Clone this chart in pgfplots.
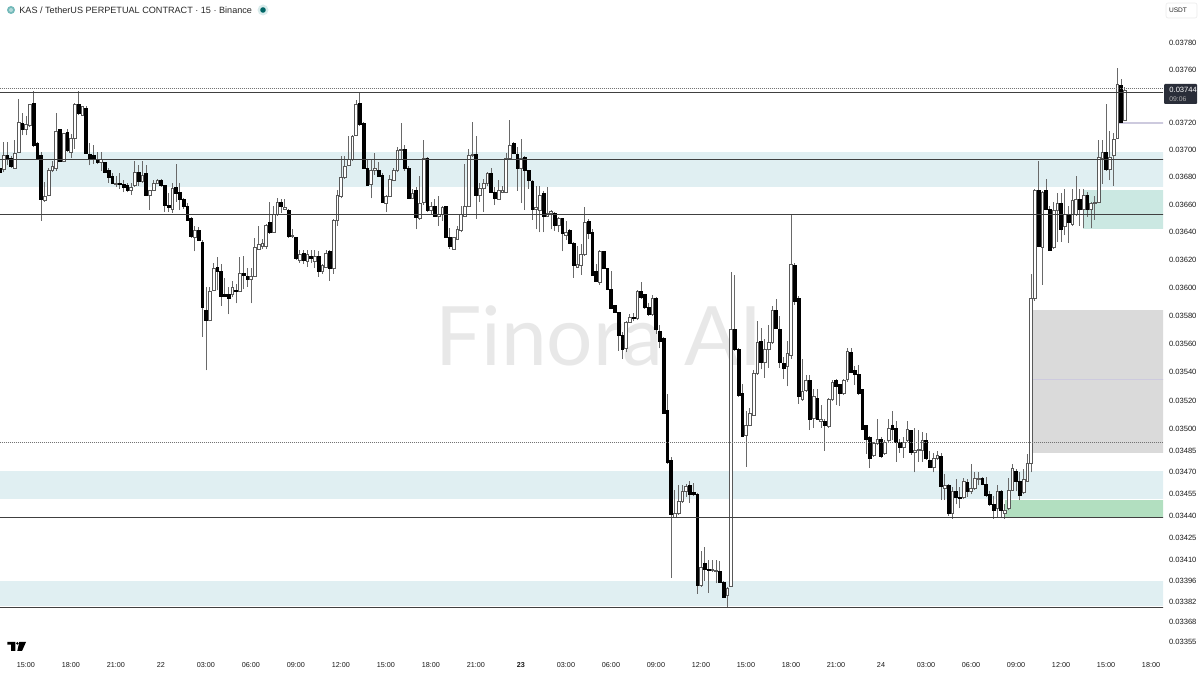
\documentclass[border=0pt]{standalone}
\usepackage{fontspec}
\setmainfont{Liberation Sans}
\newfontfamily\wmfont{Lato}
\usepackage{pgfplots}
\usepackage{pgfplotstable}
\pgfplotsset{compat=1.18}
\definecolor{zona}{RGB}{224,239,242}
\definecolor{zonaverde}{RGB}{203,232,226}
\definecolor{verde}{RGB}{178,223,192}
\definecolor{gris}{RGB}{218,218,218}
\definecolor{lav}{RGB}{205,202,222}
\definecolor{etiq}{RGB}{42,46,57}
\definecolor{mecha}{RGB}{105,105,105}
% KAS/USDT 15m: x is the candle number, 0 is the first 15:00
\pgfplotstableread{
x o h l c
-7 0.03687 0.03688 0.03683 0.03684
-6 0.03686 0.03706 0.03684 0.03696
-5 0.03696 0.03706 0.03689 0.03694
-4 0.03694 0.03696 0.03687 0.03688
-3 0.03687 0.03707 0.03687 0.03698
-2 0.03699 0.03738 0.03698 0.03721
-1 0.03720 0.03727 0.03711 0.03715
0 0.03715 0.03725 0.03711 0.03719
1 0.03718 0.03734 0.03717 0.03734
2 0.03735 0.03744 0.03702 0.03704
3 0.03705 0.03706 0.03693 0.03694
4 0.03696 0.03699 0.03648 0.03664
5 0.03663 0.03677 0.03662 0.03666
6 0.03667 0.03687 0.03666 0.03685
7 0.03685 0.03692 0.03684 0.03688
8 0.03687 0.03727 0.03685 0.03714
9 0.03715 0.03716 0.03691 0.03692
10 0.03692 0.03713 0.03691 0.03712
11 0.03713 0.03716 0.03699 0.03700
12 0.03699 0.03712 0.03694 0.03709
13 0.03709 0.03735 0.03701 0.03734
14 0.03734 0.03744 0.03726 0.03727
15 0.03726 0.03732 0.03726 0.03732
16 0.03731 0.03733 0.03697 0.03698
17 0.03697 0.03705 0.03689 0.03694
18 0.03696 0.03704 0.03690 0.03693
19 0.03693 0.03699 0.03690 0.03691
20 0.03691 0.03699 0.03685 0.03693
21 0.03691 0.03691 0.03683 0.03684
22 0.03685 0.03687 0.03676 0.03680
23 0.03681 0.03683 0.03675 0.03676
24 0.03675 0.03681 0.03673 0.03676
25 0.03676 0.03683 0.03672 0.03675
26 0.03675 0.03678 0.03669 0.03673
27 0.03674 0.03676 0.03669 0.03670
28 0.03670 0.03676 0.03667 0.03673
29 0.03674 0.03692 0.03673 0.03684
30 0.03684 0.03689 0.03674 0.03677
31 0.03677 0.03692 0.03676 0.03682
32 0.03683 0.03689 0.03666 0.03667
33 0.03667 0.03670 0.03656 0.03670
34 0.03670 0.03678 0.03670 0.03676
35 0.03676 0.03679 0.03675 0.03678
36 0.03678 0.03679 0.03673 0.03674
37 0.03674 0.03674 0.03655 0.03660
38 0.03660 0.03668 0.03655 0.03658
39 0.03657 0.03676 0.03654 0.03672
40 0.03673 0.03690 0.03662 0.03668
41 0.03669 0.03676 0.03656 0.03664
42 0.03664 0.03665 0.03657 0.03659
43 0.03659 0.03661 0.03649 0.03649
44 0.03650 0.03651 0.03636 0.03637
45 0.03636 0.03645 0.03626 0.03641
46 0.03641 0.03644 0.03634 0.03634
47 0.03633 0.03634 0.03565 0.03586
48 0.03584 0.03600 0.03541 0.03577
49 0.03577 0.03601 0.03576 0.03597
50 0.03598 0.03618 0.03598 0.03614
51 0.03615 0.03622 0.03598 0.03612
52 0.03612 0.03617 0.03587 0.03594
53 0.03595 0.03607 0.03594 0.03594
54 0.03595 0.03600 0.03581 0.03592
55 0.03595 0.03605 0.03593 0.03600
56 0.03598 0.03603 0.03589 0.03597
57 0.03597 0.03622 0.03597 0.03610
58 0.03610 0.03623 0.03599 0.03609
59 0.03608 0.03614 0.03601 0.03606
60 0.03606 0.03614 0.03589 0.03608
61 0.03608 0.03636 0.03608 0.03629
62 0.03628 0.03645 0.03627 0.03631
63 0.03630 0.03635 0.03628 0.03632
64 0.03630 0.03646 0.03628 0.03645
65 0.03647 0.03662 0.03639 0.03640
66 0.03640 0.03659 0.03640 0.03653
67 0.03653 0.03665 0.03652 0.03662
68 0.03662 0.03664 0.03654 0.03659
69 0.03658 0.03664 0.03656 0.03657
70 0.03656 0.03657 0.03636 0.03637
71 0.03638 0.03642 0.03636 0.03637
72 0.03636 0.03637 0.03620 0.03621
73 0.03620 0.03627 0.03618 0.03624
74 0.03625 0.03627 0.03617 0.03620
75 0.03619 0.03627 0.03615 0.03624
76 0.03623 0.03627 0.03618 0.03621
77 0.03619 0.03627 0.03614 0.03623
78 0.03623 0.03626 0.03608 0.03612
79 0.03612 0.03617 0.03610 0.03616
80 0.03615 0.03627 0.03614 0.03625
81 0.03626 0.03627 0.03605 0.03614
82 0.03614 0.03650 0.03610 0.03649
83 0.03649 0.03671 0.03645 0.03667
84 0.03666 0.03696 0.03665 0.03680
85 0.03680 0.03696 0.03679 0.03688
86 0.03689 0.03710 0.03688 0.03693
87 0.03693 0.03711 0.03692 0.03710
88 0.03711 0.03737 0.03710 0.03734
89 0.03735 0.03743 0.03718 0.03719
90 0.03720 0.03721 0.03687 0.03687
91 0.03687 0.03693 0.03674 0.03674
92 0.03675 0.03693 0.03665 0.03685
93 0.03685 0.03698 0.03682 0.03687
94 0.03685 0.03691 0.03681 0.03681
95 0.03682 0.03683 0.03661 0.03662
96 0.03661 0.03667 0.03655 0.03666
97 0.03666 0.03682 0.03666 0.03679
98 0.03678 0.03687 0.03678 0.03685
99 0.03685 0.03702 0.03684 0.03700
100 0.03700 0.03720 0.03693 0.03701
101 0.03701 0.03704 0.03685 0.03687
102 0.03687 0.03688 0.03665 0.03665
103 0.03665 0.03672 0.03665 0.03668
104 0.03670 0.03673 0.03642 0.03651
105 0.03650 0.03681 0.03649 0.03661
106 0.03662 0.03707 0.03660 0.03694
107 0.03694 0.03695 0.03655 0.03656
108 0.03656 0.03662 0.03653 0.03659
109 0.03659 0.03664 0.03651 0.03652
110 0.03652 0.03666 0.03645 0.03653
111 0.03653 0.03659 0.03648 0.03658
112 0.03659 0.03659 0.03636 0.03636
113 0.03636 0.03643 0.03628 0.03630
114 0.03628 0.03637 0.03628 0.03636
115 0.03635 0.03645 0.03634 0.03642
116 0.03641 0.03659 0.03640 0.03653
117 0.03652 0.03690 0.03651 0.03659
118 0.03659 0.03701 0.03658 0.03696
119 0.03696 0.03721 0.03695 0.03697
120 0.03697 0.03710 0.03650 0.03667
121 0.03667 0.03676 0.03662 0.03672
122 0.03672 0.03679 0.03655 0.03676
123 0.03676 0.03684 0.03674 0.03683
124 0.03683 0.03687 0.03668 0.03669
125 0.03669 0.03673 0.03660 0.03665
126 0.03664 0.03678 0.03664 0.03670
127 0.03669 0.03674 0.03668 0.03670
128 0.03669 0.03698 0.03668 0.03694
129 0.03694 0.03722 0.03693 0.03704
130 0.03705 0.03706 0.03697 0.03698
131 0.03697 0.03702 0.03670 0.03687
132 0.03687 0.03708 0.03661 0.03694
133 0.03695 0.03696 0.03656 0.03685
134 0.03685 0.03685 0.03672 0.03678
135 0.03677 0.03678 0.03649 0.03657
136 0.03657 0.03674 0.03642 0.03658
137 0.03656 0.03674 0.03640 0.03667
138 0.03668 0.03670 0.03640 0.03652
139 0.03652 0.03673 0.03651 0.03654
140 0.03655 0.03656 0.03642 0.03654
141 0.03654 0.03655 0.03641 0.03645
142 0.03645 0.03651 0.03640 0.03650
143 0.03650 0.03650 0.03626 0.03639
144 0.03638 0.03648 0.03634 0.03640
145 0.03641 0.03642 0.03631 0.03632
146 0.03632 0.03633 0.03607 0.03616
147 0.03615 0.03630 0.03615 0.03617
148 0.03616 0.03631 0.03609 0.03624
149 0.03624 0.03658 0.03623 0.03647
150 0.03648 0.03650 0.03635 0.03639
151 0.03640 0.03642 0.03609 0.03609
152 0.03612 0.03617 0.03604 0.03605
153 0.03604 0.03627 0.03602 0.03626
154 0.03626 0.03626 0.03614 0.03614
155 0.03614 0.03614 0.03598 0.03599
156 0.03599 0.03612 0.03585 0.03585
157 0.03587 0.03588 0.03582 0.03582
158 0.03582 0.03583 0.03555 0.03566
159 0.03566 0.03568 0.03549 0.03556
160 0.03557 0.03576 0.03554 0.03575
161 0.03575 0.03581 0.03575 0.03579
162 0.03579 0.03582 0.03576 0.03578
163 0.03578 0.03598 0.03577 0.03597
164 0.03597 0.03604 0.03592 0.03593
165 0.03595 0.03595 0.03585 0.03586
166 0.03586 0.03589 0.03580 0.03581
167 0.03581 0.03595 0.03580 0.03592
168 0.03592 0.03593 0.03567 0.03570
169 0.03569 0.03573 0.03557 0.03562
170 0.03564 0.03565 0.03511 0.03511
171 0.03513 0.03525 0.03476 0.03477
172 0.03478 0.03481 0.03398 0.03441
173 0.03439 0.03458 0.03439 0.03442
174 0.03442 0.03461 0.03441 0.03450
175 0.03450 0.03461 0.03449 0.03457
176 0.03457 0.03462 0.03453 0.03460
177 0.03461 0.03464 0.03449 0.03455
178 0.03456 0.03463 0.03454 0.03455
179 0.03455 0.03456 0.03387 0.03393
180 0.03393 0.03416 0.03392 0.03405
181 0.03408 0.03419 0.03396 0.03404
182 0.03404 0.03410 0.03388 0.03403
183 0.03403 0.03410 0.03402 0.03404
184 0.03403 0.03410 0.03394 0.03402
185 0.03402 0.03409 0.03395 0.03395
186 0.03395 0.03396 0.03384 0.03385
187 0.03386 0.03392 0.03378 0.03391
188 0.03392 0.03611 0.03392 0.03570
189 0.03570 0.03609 0.03555 0.03556
190 0.03556 0.03557 0.03523 0.03524
191 0.03525 0.03532 0.03494 0.03495
192 0.03496 0.03513 0.03474 0.03503
193 0.03503 0.03515 0.03502 0.03511
194 0.03510 0.03541 0.03509 0.03539
195 0.03539 0.03576 0.03538 0.03561
196 0.03562 0.03571 0.03542 0.03547
197 0.03547 0.03563 0.03536 0.03556
198 0.03556 0.03573 0.03543 0.03561
199 0.03561 0.03587 0.03560 0.03584
200 0.03584 0.03592 0.03571 0.03571
201 0.03570 0.03580 0.03543 0.03547
202 0.03546 0.03551 0.03535 0.03543
203 0.03544 0.03562 0.03530 0.03553
204 0.03552 0.03653 0.03549 0.03617
205 0.03616 0.03618 0.03588 0.03590
206 0.03592 0.03594 0.03518 0.03523
207 0.03521 0.03549 0.03520 0.03526
208 0.03527 0.03538 0.03526 0.03534
209 0.03534 0.03538 0.03499 0.03507
210 0.03508 0.03528 0.03501 0.03523
211 0.03522 0.03528 0.03507 0.03507
212 0.03507 0.03517 0.03501 0.03506
213 0.03506 0.03507 0.03485 0.03503
214 0.03502 0.03522 0.03501 0.03521
215 0.03521 0.03534 0.03520 0.03533
216 0.03534 0.03535 0.03517 0.03530
217 0.03531 0.03532 0.03516 0.03525
218 0.03525 0.03535 0.03524 0.03534
219 0.03535 0.03557 0.03533 0.03555
220 0.03554 0.03557 0.03539 0.03540
221 0.03541 0.03544 0.03531 0.03538
222 0.03538 0.03545 0.03524 0.03525
223 0.03528 0.03528 0.03500 0.03500
224 0.03503 0.03503 0.03483 0.03493
225 0.03494 0.03495 0.03473 0.03480
226 0.03482 0.03491 0.03481 0.03490
227 0.03490 0.03507 0.03489 0.03493
228 0.03493 0.03494 0.03480 0.03481
229 0.03483 0.03492 0.03482 0.03491
230 0.03492 0.03507 0.03491 0.03501
231 0.03503 0.03513 0.03492 0.03500
232 0.03501 0.03506 0.03477 0.03491
233 0.03491 0.03493 0.03484 0.03487
234 0.03487 0.03494 0.03480 0.03491
235 0.03492 0.03506 0.03491 0.03500
236 0.03499 0.03499 0.03482 0.03484
237 0.03484 0.03501 0.03470 0.03485
238 0.03485 0.03499 0.03477 0.03486
239 0.03485 0.03498 0.03477 0.03492
240 0.03492 0.03497 0.03479 0.03480
241 0.03479 0.03485 0.03473 0.03474
242 0.03474 0.03484 0.03470 0.03480
243 0.03480 0.03485 0.03479 0.03482
244 0.03481 0.03484 0.03451 0.03460
245 0.03459 0.03469 0.03451 0.03461
246 0.03461 0.03462 0.03440 0.03442
247 0.03442 0.03460 0.03438 0.03457
248 0.03457 0.03465 0.03448 0.03453
249 0.03453 0.03460 0.03445 0.03452
250 0.03453 0.03466 0.03452 0.03464
251 0.03463 0.03465 0.03453 0.03457
252 0.03457 0.03476 0.03455 0.03459
253 0.03459 0.03470 0.03458 0.03466
254 0.03465 0.03470 0.03461 0.03466
255 0.03466 0.03467 0.03461 0.03462
256 0.03462 0.03467 0.03453 0.03454
257 0.03455 0.03457 0.03447 0.03448
258 0.03448 0.03454 0.03438 0.03444
259 0.03445 0.03461 0.03439 0.03457
260 0.03457 0.03458 0.03439 0.03444
261 0.03442 0.03448 0.03438 0.03444
262 0.03445 0.03466 0.03444 0.03458
263 0.03458 0.03476 0.03458 0.03473
264 0.03471 0.03472 0.03457 0.03464
265 0.03464 0.03470 0.03451 0.03454
266 0.03456 0.03472 0.03455 0.03465
267 0.03464 0.03483 0.03464 0.03476
268 0.03476 0.03610 0.03470 0.03592
269 0.03592 0.03672 0.03591 0.03670
270 0.03670 0.03692 0.03629 0.03630
271 0.03629 0.03670 0.03602 0.03669
272 0.03670 0.03679 0.03656 0.03657
273 0.03657 0.03659 0.03627 0.03627
274 0.03629 0.03662 0.03628 0.03656
275 0.03656 0.03668 0.03633 0.03661
276 0.03661 0.03668 0.03633 0.03642
277 0.03644 0.03672 0.03638 0.03653
278 0.03653 0.03659 0.03632 0.03647
279 0.03646 0.03672 0.03645 0.03663
280 0.03653 0.03681 0.03652 0.03664
281 0.03664 0.03672 0.03645 0.03657
282 0.03657 0.03672 0.03643 0.03667
283 0.03667 0.03669 0.03651 0.03657
284 0.03657 0.03662 0.03643 0.03661
285 0.03661 0.03666 0.03649 0.03662
286 0.03662 0.03707 0.03661 0.03695
287 0.03694 0.03707 0.03675 0.03699
288 0.03699 0.03734 0.03685 0.03686
289 0.03686 0.03714 0.03678 0.03695
290 0.03696 0.03713 0.03674 0.03708
291 0.03709 0.03761 0.03708 0.03749
292 0.03748 0.03753 0.03721 0.03721
293 0.03722 0.03747 0.03722 0.03744
}\velas
\pgfplotstablegetrowsof{\velas}
\pgfmathtruncatemacro{\ultima}{\pgfplotsretval-1}
\begin{document}
% everything at half size: at full size the log axis overflows TeX dimensions
\begin{tikzpicture}
\path[use as bounding box] (0,0) rectangle (600pt,337.5pt);
\begin{axis}[
  at={(0,10pt)}, anchor=south west, scale only axis,
  width=581.5pt, height=315pt,
  ymode=log, xmin=-6.93, xmax=303.2, ymin=0.03346, ymax=0.03793,
  axis line style={draw=none}, major tick length=0, minor tick length=0,
  yticklabel pos=right,
  xtick={0,12,...,300},
  xticklabels={15:00,18:00,21:00,22,03:00,06:00,09:00,12:00,15:00,18:00,21:00,\textbf{23},03:00,06:00,09:00,12:00,15:00,18:00,21:00,24,03:00,06:00,09:00,12:00,15:00,18:00},
  ytick={0.03780,0.03760,0.03720,0.03700,0.03680,0.03660,0.03640,0.03620,0.03600,0.03580,0.03560,0.03540,0.03520,0.03500,0.03485,0.03470,0.03455,0.03440,0.03425,0.03410,0.03396,0.03382,0.03368,0.03355},
  yticklabels={0.03780,0.03760,0.03720,0.03700,0.03680,0.03660,0.03640,0.03620,0.03600,0.03580,0.03560,0.03540,0.03520,0.03500,0.03485,0.03470,0.03455,0.03440,0.03425,0.03410,0.03396,0.03382,0.03368,0.03355},
  yticklabel style={font=\fontsize{3.8}{4.5}\selectfont, text=black!90, anchor=west, inner sep=0pt, xshift=2.8pt},
  xticklabel style={font=\fontsize{3.6}{4.5}\selectfont, text=black!90, inner sep=0pt, yshift=-3.5pt},
]
% watermark under everything
\node[text=black!9, font=\wmfont\fontsize{41}{41}\selectfont, anchor=base] at (axis cs:152.8,0.03545) {Finora AI};
% zones
\addplot[fill=zona, draw=none, forget plot] coordinates {(-7,0.03699) (304,0.03699) (304,0.03673) (-7,0.03673)} --cycle;
\addplot[fill=zona, draw=none, forget plot] coordinates {(-7,0.03471) (304,0.03471) (304,0.03452) (-7,0.03452)} --cycle;
\addplot[fill=zona, draw=none, forget plot] coordinates {(-7,0.03396) (304,0.03396) (304,0.03379) (-7,0.03379)} --cycle;
\addplot[fill=gris, draw=none, forget plot] coordinates {(267.7,0.03584) (304,0.03584) (304,0.03484) (267.7,0.03484)} --cycle;
\addplot[fill=zonaverde, draw=none, forget plot] coordinates {(281.9,0.03671) (304,0.03671) (304,0.03642) (281.9,0.03642)} --cycle;
\addplot[fill=verde, draw=none, forget plot] coordinates {(261,0.03451) (304,0.03451) (304,0.03439) (261,0.03439)} --cycle;
\addplot[lav, line width=0.3pt, forget plot] coordinates {(267.7,0.03535) (304,0.03535)};
\addplot[lav, line width=0.8pt, forget plot] coordinates {(291.5,0.03720) (304,0.03720)};
% candles
\pgfplotsforeachungrouped \i in {0,...,\ultima}{
  \pgfplotstablegetelem{\i}{x}\of\velas \let\vx\pgfplotsretval
  \pgfplotstablegetelem{\i}{o}\of\velas \let\vo\pgfplotsretval
  \pgfplotstablegetelem{\i}{h}\of\velas \let\vh\pgfplotsretval
  \pgfplotstablegetelem{\i}{l}\of\velas \let\vl\pgfplotsretval
  \pgfplotstablegetelem{\i}{c}\of\velas \let\vc\pgfplotsretval
  \ifdim\vc pt<\vo pt \def\relleno{black}\def\borde{black}\else\def\relleno{white}\def\borde{black!65}\fi
  \pgfmathsetmacro{\xa}{\vx-0.34}
  \pgfmathsetmacro{\xb}{\vx+0.34}
  \edef\vela{%
    \noexpand\addplot[mecha, line width=0.42pt, forget plot] coordinates {(\vx,\vl) (\vx,\vh)};
    \noexpand\addplot[fill=\relleno, draw=\borde, line width=0.26pt, forget plot] coordinates {(\xa,\vo) (\xb,\vo) (\xb,\vc) (\xa,\vc)} --cycle;
  }\vela
}
% lines on top
\addplot[black!75, line width=0.35pt, forget plot] coordinates {(-7,0.03743) (304,0.03743)};
\addplot[black!75, line width=0.35pt, forget plot] coordinates {(-7,0.03693) (304,0.03693)};
\addplot[black!75, line width=0.35pt, forget plot] coordinates {(-7,0.03653) (304,0.03653)};
\addplot[black!75, line width=0.35pt, forget plot] coordinates {(-7,0.03439) (304,0.03439)};
\addplot[black!75, line width=0.35pt, forget plot] coordinates {(-7,0.03378) (304,0.03378)};
\addplot[black!55, line width=0.25pt, dash pattern=on 0.4pt off 0.6pt, forget plot] coordinates {(-7,0.03746) (304,0.03746)};
\addplot[black!55, line width=0.25pt, dash pattern=on 0.4pt off 0.6pt, forget plot] coordinates {(-7,0.03491) (304,0.03491)};
\end{axis}
% chart furniture, in picture pixels from the top left
\begin{scope}[yshift=337.5pt, x=0.5pt, y=-0.5pt]
\fill[teal!55] (11,10) circle (4);
\fill[white!70!teal] (11,10) circle (2);
\node[anchor=west, inner sep=0pt, font=\fontsize{4.55}{5}\selectfont, text=black!85] at (19,10.5) {KAS / TetherUS PERPETUAL CONTRACT · 15 · Binance};
\fill[teal!15] (263,10) circle (5.5);
\fill[teal!80!black] (263,10) circle (2.8);
\draw[black!8, rounded corners=1pt, fill=white, line width=0.3pt] (1166,3) rectangle (1197,18);
\node[inner sep=0pt, font=\fontsize{3.3}{4}\selectfont, text=black!85] at (1178,10.5) {USDT};
\fill[etiq, rounded corners=0.5pt] (1164,84) rectangle (1197,104);
\node[inner sep=0pt, anchor=west, font=\fontsize{3.8}{4.5}\selectfont, text=white] at (1169,90) {0.03744};
\node[inner sep=0pt, anchor=west, font=\fontsize{3.4}{4}\selectfont, text=black!30] at (1169,99) {09:06};
% TradingView mark
\fill[black] (7.3,642) -- (15.3,642) -- (15.3,651) -- (11,651) -- (11,644.7) -- (7.3,644.7) -- cycle;
\fill[black] (17.4,643.4) circle (1.4);
\fill[black] (19.3,642) -- (26,642) -- (22,651) -- (17.3,651) -- cycle;
\end{scope}
\end{tikzpicture}
\end{document}
